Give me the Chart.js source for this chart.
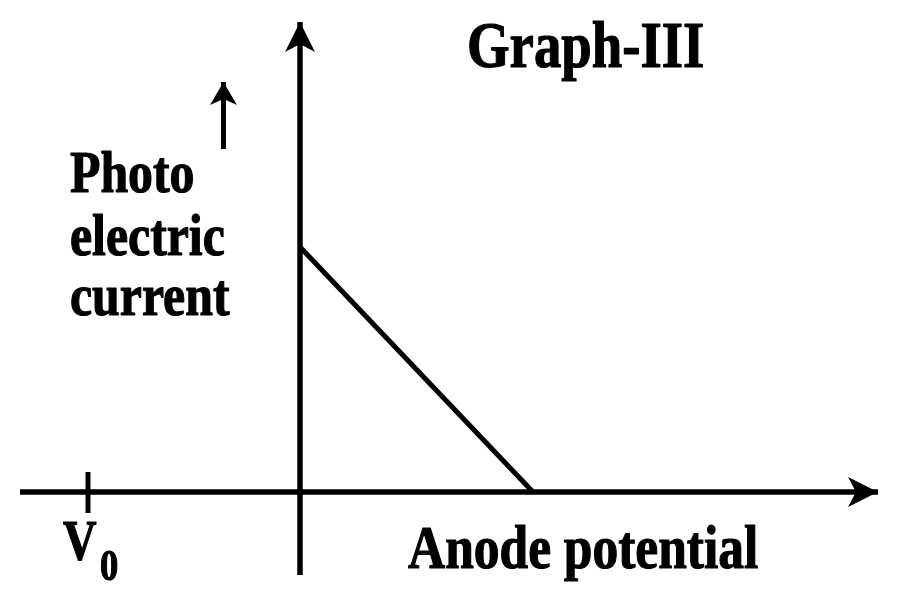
<!DOCTYPE html>
<html>
<head>
<meta charset="utf-8">
<script src="https://cdn.jsdelivr.net/npm/chart.js@4/dist/chart.umd.min.js"></script>
<style>
    html, body { margin: 0; padding: 0; background: #fff; }
    #wrap { width: 900px; height: 603px; position: relative; }
</style>
</head>
<body>
<div id="wrap"><canvas id="graph"></canvas></div>
<script>
// data (1 unit = 100 px, origin where the axes cross)
const xAxisRange = [-2.8, 5.78];
const yAxisRange = [-0.83, 4.70];
const v0Value = -2.12;
const v0TickSpan = [0.20, -0.21];
const currentX = [0, 2.33];
const currentY = [2.45, 0];
const hintArrowX = -0.765;
const hintArrowY = [3.43, 4.10];
const xTickLabel = 'V';
const xTickSub = '0';
const titleText = 'Graph-III';
const yTitleLines = ['Photo', 'electric', 'current'];
const xTitleText = 'Anode potential';

const pts = (xs, ys) => xs.map((x, i) => ({ x: x, y: ys[i] }));

const lineStyle = {
    borderColor: '#000',
    borderWidth: 5.5,
    pointRadius: 0,
    fill: false,
    tension: 0,
    borderCapStyle: 'butt'
};

// stealth arrowheads at the end of datasets flagged with arrow
const arrowPlugin = {
    id: 'arrows',
    afterDatasetsDraw(chart) {
        const ctx = chart.ctx;
        const xs = chart.scales.x, ys = chart.scales.y;
        chart.data.datasets.forEach(ds => {
            if (!ds.arrow) return;
            const n = ds.data.length;
            const a = ds.data[n - 2], b = ds.data[n - 1];
            const x1 = xs.getPixelForValue(a.x), y1 = ys.getPixelForValue(a.y);
            const x2 = xs.getPixelForValue(b.x), y2 = ys.getPixelForValue(b.y);
            const ang = Math.atan2(y2 - y1, x2 - x1);
            const L = ds.arrow.len, W = ds.arrow.width, N = ds.arrow.notch;
            ctx.save();
            ctx.translate(x2, y2);
            ctx.rotate(ang);
            ctx.beginPath();
            ctx.moveTo(0, 0);
            ctx.lineTo(-L, -W / 2);
            ctx.lineTo(-L + N, 0);
            ctx.lineTo(-L, W / 2);
            ctx.closePath();
            ctx.fillStyle = '#000';
            ctx.fill();
            ctx.restore();
        });
    }
};

// bold serif labels, slightly condensed like the source drawing
const labelPlugin = {
    id: 'labels',
    afterDraw(chart, args, opts) {
        const ctx = chart.ctx;
        const xs = chart.scales.x, ys = chart.scales.y;
        opts.items.forEach(it => {
            ctx.save();
            ctx.font = 'bold ' + it.size + 'px "Liberation Serif", "Times New Roman", serif';
            ctx.fillStyle = '#000';
            ctx.strokeStyle = '#000';
            ctx.lineWidth = 1.2;
            ctx.lineJoin = 'round';
            ctx.textBaseline = 'alphabetic';
            ctx.translate(xs.getPixelForValue(it.x), ys.getPixelForValue(it.y));
            ctx.scale(0.83, 1);
            ctx.fillText(it.text, 0, 0);
            ctx.strokeText(it.text, 0, 0);
            ctx.restore();
        });
    }
};

new Chart(document.getElementById('graph'), {
    type: 'scatter',
    data: {
        datasets: [
            Object.assign({ data: pts(xAxisRange, [0, 0]), showLine: true,
                arrow: { len: 30, width: 30, notch: 8 } }, lineStyle),
            Object.assign({ data: pts([0, 0], yAxisRange), showLine: true,
                arrow: { len: 30, width: 30, notch: 8 } }, lineStyle),
            Object.assign({ data: pts([v0Value, v0Value], v0TickSpan), showLine: true }, lineStyle, { borderWidth: 5 }),
            Object.assign({ data: pts(currentX, currentY), showLine: true }, lineStyle, { borderWidth: 5 }),
            Object.assign({ data: pts([hintArrowX, hintArrowX], hintArrowY), showLine: true,
                arrow: { len: 23, width: 27, notch: 6 } }, lineStyle, { borderWidth: 5 })
        ]
    },
    options: {
        responsive: true,
        maintainAspectRatio: false,
        animation: false,
        layout: { padding: 0 },
        scales: {
            x: { type: 'linear', min: -3, max: 6, display: false },
            y: { type: 'linear', min: -1.11, max: 4.92, display: false }
        },
        plugins: {
            legend: { display: false },
            tooltip: { enabled: false },
            labels: {
                items: [
                    { text: titleText, x: 1.67, y: 4.25, size: 66 },
                    { text: yTitleLines[0], x: -2.30, y: 3.00, size: 60 },
                    { text: yTitleLines[1], x: -2.30, y: 2.37, size: 60 },
                    { text: yTitleLines[2], x: -2.30, y: 1.77, size: 60 },
                    { text: xTickLabel, x: -2.37, y: -0.68, size: 56 },
                    { text: xTickSub, x: -2.00, y: -0.88, size: 44 },
                    { text: xTitleText, x: 1.08, y: -0.76, size: 62 }
                ]
            }
        }
    },
    plugins: [arrowPlugin, labelPlugin]
});
</script>
</body>
</html>
